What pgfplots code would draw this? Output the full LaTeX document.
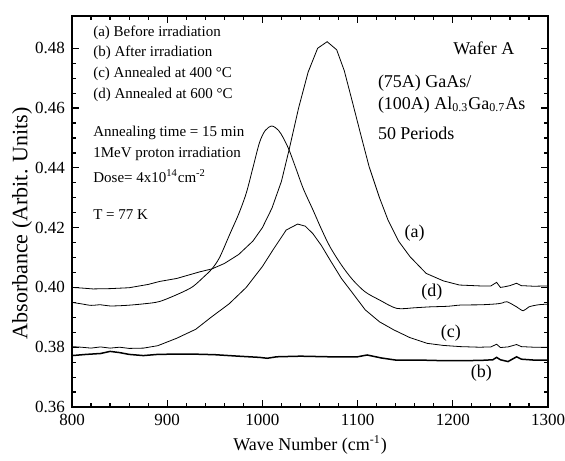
\documentclass[border=0pt]{standalone}
\usepackage{fontspec}
\setmainfont{Liberation Serif}
\usepackage{pgfplots}
\pgfplotsset{compat=1.18}
\newcommand\fa{\fontsize{7.5}{9}\selectfont}
\newcommand\fb{\fontsize{9}{11}\selectfont}
\begin{document}
\begin{tikzpicture}
\begin{axis}[
  scale only axis, width=238pt, height=195.5pt,
  xmin=800, xmax=1300, ymin=0.36, ymax=0.4908,
  xtick={800,900,1000,1100,1200,1300},
  ytick={0.36,0.38,0.40,0.42,0.44,0.46,0.48},
  minor x tick num=4, minor y tick num=3,
  tick align=inside, major tick length=3.5pt, minor tick length=2pt,
  axis line style={line width=1pt},
  every tick/.style={black, line width=0.6pt},
  /pgf/number format/assume math mode=true,
  /pgf/number format/1000 sep={},
  yticklabel style={/pgf/number format/.cd, fixed, fixed zerofill, precision=2},
  ticklabel style={font=\fontsize{8.5}{10}\selectfont},
  xlabel={Wave Number (cm\textsuperscript{-1})},
  ylabel={Absorbance (Arbit. Units)},
  x label style={font=\fontsize{9}{11}\selectfont, at={(axis description cs:0.5,0)}, anchor=center, yshift=-19pt},
  y label style={font=\fontsize{11}{13}\selectfont, at={(axis description cs:-0.105,0.47)}, anchor=center},
  cycle list={{black, line width=0.75pt, no marks, smooth, tension=0.4}},
  clip=false,
]
% (a) Before irradiation
\addplot coordinates {
(800,0.4000) (810,0.3998) (822,0.3995) (840,0.3996) (860,0.3999) (880,0.4010)
(892,0.4020) (910,0.4030) (934,0.4052) (947,0.4062) (960,0.4080) (975,0.4110)
(990,0.4155) (1000,0.4200) (1010,0.4265) (1020,0.4355) (1028,0.4460) (1038,0.4600)
(1048,0.4720) (1058,0.4800) (1068,0.4822) (1078,0.4795) (1086,0.4725) (1094,0.4627)
(1103,0.4515) (1112,0.4405) (1123,0.4300) (1132,0.4225) (1143,0.4155) (1155,0.4103)
(1172,0.4047) (1190,0.4022) (1207,0.4008) (1229,0.4005) (1240,0.4005) (1246,0.4017)
(1250,0.4000) (1254,0.4002) (1260,0.4006) (1267,0.4014) (1272,0.4006) (1285,0.4004)
(1300,0.4005)
};
% (b) After irradiation
\addplot coordinates {
(800,0.3772) (815,0.3776) (830,0.3779) (840,0.3786) (850,0.3782) (860,0.3776)
(875,0.3772) (890,0.3776) (910,0.3777) (927,0.3777) (950,0.3775) (975,0.3770)
(997,0.3766) (1005,0.3763) (1015,0.3768) (1040,0.3770) (1070,0.3768) (1100,0.3768)
(1110,0.3774) (1125,0.3764) (1140,0.3757) (1165,0.3757) (1190,0.3755) (1210,0.3755)
(1230,0.3756) (1242,0.3758) (1246,0.3766) (1250,0.3758) (1258,0.3752) (1267,0.3768)
(1272,0.3760) (1285,0.3757) (1300,0.3757)
};
% (c) Annealed at 400 C
\addplot coordinates {
(800,0.3802) (810,0.3800) (820,0.3797) (830,0.3801) (840,0.3797) (850,0.3800)
(860,0.3796) (875,0.3797) (890,0.3805) (910,0.3830) (930,0.3860) (946,0.3900)
(965,0.3945) (983,0.4000) (1000,0.4070) (1011,0.4125) (1025,0.4192) (1037,0.4212)
(1045,0.4205) (1053,0.4180) (1062,0.4140) (1071,0.4092) (1083,0.4030) (1095,0.3980)
(1108,0.3925) (1123,0.3885) (1138,0.3858) (1155,0.3832) (1173,0.3813) (1190,0.3806)
(1208,0.3802) (1228,0.3800) (1240,0.3801) (1246,0.3810) (1250,0.3799) (1258,0.3801)
(1267,0.3809) (1272,0.3802) (1285,0.3800) (1300,0.3800)
};
% (d) Annealed at 600 C
\addplot coordinates {
(800,0.3950) (810,0.3945) (820,0.3940) (830,0.3942) (840,0.3938) (857,0.3940)
(875,0.3945) (892,0.3953) (913,0.3980) (927,0.4003) (940,0.4040) (947,0.4062)
(955,0.4100) (966,0.4180) (975,0.4245) (983,0.4315) (990,0.4400) (997,0.4485)
(1003,0.4525) (1010,0.4540) (1017,0.4525) (1022,0.4500) (1028,0.4460) (1035,0.4400)
(1043,0.4330) (1053,0.4260) (1062,0.4195) (1071,0.4136) (1083,0.4075) (1095,0.4025)
(1108,0.3985) (1123,0.3958) (1141,0.3930) (1160,0.3932) (1176,0.3935) (1195,0.3937)
(1208,0.3941) (1230,0.3942) (1246,0.3945) (1252,0.3948) (1257,0.3952) (1267,0.3935)
(1274,0.3922) (1280,0.3935) (1290,0.3942) (1300,0.3944)
};
% left annotations
\node[anchor=west, inner sep=0, font=\fa] at (axis cs:822,0.4851) {(a) Before irradiation};
\node[anchor=west, inner sep=0, font=\fa] at (axis cs:822,0.4784) {(b) After irradiation};
\node[anchor=west, inner sep=0, font=\fa] at (axis cs:822,0.4714) {(c) Annealed at 400 °C};
\node[anchor=west, inner sep=0, font=\fa] at (axis cs:822,0.4643) {(d) Annealed at 600 °C};
\node[anchor=west, inner sep=0, font=\fa] at (axis cs:822,0.4516) {Annealing time = 15 min};
\node[anchor=west, inner sep=0, font=\fa] at (axis cs:822,0.4446) {1MeV proton irradiation};
\node[anchor=west, inner sep=0, font=\fa] at (axis cs:822,0.4373) {Dose= 4x10\textsuperscript{14}cm\textsuperscript{-2}};
\node[anchor=west, inner sep=0, font=\fa] at (axis cs:822,0.4245) {T = 77 K};
% right annotations
\node[anchor=east, inner sep=0, font=\fb] at (axis cs:1265,0.4801) {Wafer A};
\node[anchor=west, inner sep=0, font=\fb] at (axis cs:1121,0.4684) {(75A) GaAs/};
\node[anchor=west, inner sep=0, font=\fb] at (axis cs:1121,0.4610) {(100A) Al\textsubscript{0.3}Ga\textsubscript{0.7}As};
\node[anchor=west, inner sep=0, font=\fb] at (axis cs:1121,0.4516) {50 Periods};
% curve labels
\node[inner sep=0, font=\fb] at (axis cs:1160,0.4182) {(a)};
\node[inner sep=0, font=\fb] at (axis cs:1178,0.3985) {(d)};
\node[inner sep=0, font=\fb] at (axis cs:1198,0.3847) {(c)};
\node[inner sep=0, font=\fb] at (axis cs:1230,0.3714) {(b)};
\end{axis}
\pgfresetboundingbox
\path[use as bounding box] (-36pt,-26.5pt) rectangle (246.5pt,203.5pt);
\end{tikzpicture}
\end{document}
